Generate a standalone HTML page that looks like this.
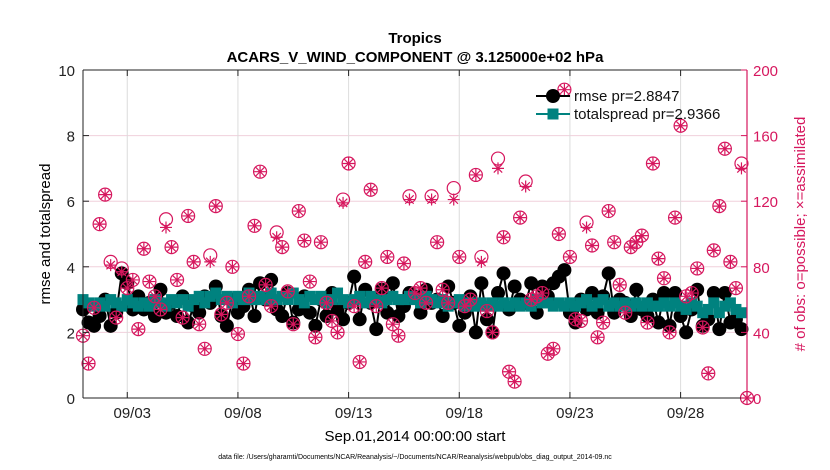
<!DOCTYPE html>
<html><head><meta charset="utf-8">
<style>
html,body{margin:0;padding:0;background:#fff;}
svg{display:block;font-family:"Liberation Sans",Arial,sans-serif;}
</style></head>
<body>
<svg id="chart" width="830" height="470" viewBox="0 0 830 470">
<text x="415" y="43" text-anchor="middle" font-size="15" font-weight="bold">Tropics</text>
<text x="415" y="62" text-anchor="middle" font-size="15" font-weight="bold">ACARS_V_WIND_COMPONENT @ 3.125000e+02 hPa</text>
<g id="grid"></g>
<g id="marks"></g>
<g id="axes"></g>
<text transform="translate(50,234) rotate(-90)" text-anchor="middle" font-size="15">rmse and totalspread</text>
<text transform="translate(805,234) rotate(-90)" text-anchor="middle" font-size="15" fill="#d6175e"># of obs: o=possible; ×=assimilated</text>
<text x="415" y="441" text-anchor="middle" font-size="15">Sep.01,2014 00:00:00 start</text>
<text x="415" y="459" text-anchor="middle" font-size="7">data file: /Users/gharamti/Documents/NCAR/Reanalysis/~/Documents/NCAR/Reanalysis/webpub/obs_diag_output_2014-09.nc</text>
<g id="legend"></g>
</svg>
<script>
const rmse = [2.7,2.3,2.2,2.5,3.0,2.2,2.6,3.8,3.5,2.7,3.1,2.7,
2.9,2.5,3.3,2.6,2.9,2.5,3.1,2.3,2.8,2.6,3.1,2.9,
3.4,2.5,2.2,3.0,2.6,2.8,3.3,2.5,3.5,3.0,3.6,2.7,
2.5,3.2,2.3,2.7,3.1,2.6,2.2,3.0,2.5,3.2,2.7,2.4,
2.9,3.7,2.4,3.3,2.9,2.1,3.3,2.6,3.5,2.5,2.8,3.2,
3.1,2.6,3.3,2.9,3.0,2.5,3.4,2.9,2.2,2.6,3.1,2.0,
3.5,2.4,2.0,3.2,3.8,2.7,3.4,3.0,2.9,3.5,2.6,3.4,
3.1,3.5,3.7,3.9,2.6,2.3,3.0,2.7,3.2,2.6,3.1,3.8,
2.6,3.0,2.9,2.5,3.3,2.7,2.5,3.0,2.3,3.2,2.2,3.2,
2.5,2.0,2.7,3.3,2.2,2.4,3.2,2.1,3.2,2.3,2.4,2.1];
const spread = [3.0,2.9,2.8,2.9,2.8,3.0,2.9,2.8,3.0,2.9,2.8,2.9,
2.8,3.0,2.9,2.8,3.0,2.9,3.0,2.8,3.0,3.1,2.9,3.1,
3.2,3.0,3.1,2.9,3.1,3.0,3.2,3.0,3.1,3.0,3.2,3.0,
3.1,3.0,3.2,3.0,2.9,3.1,3.0,3.1,2.9,3.0,3.2,3.0,
2.9,3.0,3.1,2.9,3.1,3.0,2.9,3.0,3.1,3.0,3.0,3.1,
3.0,2.9,3.1,3.0,2.9,3.0,2.8,2.9,3.0,2.8,2.9,2.8,
2.9,2.8,2.9,2.8,2.9,2.8,2.9,2.8,2.9,2.8,3.0,2.9,
2.9,2.8,2.9,2.8,2.9,2.8,2.9,3.0,2.8,2.9,3.0,2.8,
2.9,2.8,2.9,2.8,2.9,2.8,2.9,2.8,2.8,2.9,2.8,2.9,
2.8,2.7,2.9,2.8,2.6,2.7,2.9,2.6,2.8,2.9,2.7,2.6];
const obsPossible = [38,21,55,106,124,83,49,79,67,72,42,91,71,62,54,109,92,72,49,111,83,45,30,87,117,51,58,80,39,21,62,105,138,69,56,101,92,65,45,114,96,71,37,95,58,47,40,121,143,56,22,83,127,56,67,86,45,38,82,123,64,67,58,123,95,66,58,128,86,56,60,136,86,53,40,146,98,16,10,110,132,60,62,64,27,30,100,188,86,48,47,107,93,37,46,114,95,69,52,92,95,99,46,143,85,73,40,110,166,62,64,79,43,15,90,117,152,83,67,143,0];
const obsAssim = [38,21,55,106,124,81,49,77,67,72,42,91,71,62,54,104,92,72,49,111,83,45,30,83,117,51,58,80,39,21,62,105,138,69,56,98,92,65,45,114,96,71,37,95,58,47,40,119,143,56,22,83,127,56,67,86,45,38,82,121,64,67,58,121,95,66,58,121,86,56,60,136,83,53,40,140,98,16,10,110,129,60,62,64,27,30,100,188,86,48,47,104,93,37,46,114,95,69,52,92,95,99,46,143,85,73,40,110,166,62,64,79,43,15,90,117,152,83,67,140,0];
const xTickDays = [2,7,12,17,22,27];
const xTickLabels = ["09/03","09/08","09/13","09/18","09/23","09/28"];
const yTicks = [0,2,4,6,8,10];
const y2Ticks = [0,40,80,120,160,200];
const legendLabels = ["rmse pr=2.8847","totalspread pr=2.9366"];

const NS="http://www.w3.org/2000/svg";
const L=83,R=747,T=70,B=398;
const xs=d=>L+(d/30)*(R-L);
const ys=v=>B-(v/10)*(B-T);
const ys2=v=>B-(v/200)*(B-T);
const PINK="#d6175e",TEAL="#00827f";
function mk(tag,attrs,parent){const e=document.createElementNS(NS,tag);for(const k in attrs)e.setAttribute(k,attrs[k]);parent.appendChild(e);return e;}
const grid=document.getElementById('grid'),marks=document.getElementById('marks'),axes=document.getElementById('axes'),legend=document.getElementById('legend');

yTicks.forEach(v=>{ if(v>0&&v<10){const g=mk('line',{x1:L,x2:R,y1:ys(v),y2:ys(v),stroke:'#f0d0dc','stroke-width':1},grid);

}});
xTickDays.forEach(d=>{const g=mk('line',{x1:xs(d),x2:xs(d),y1:T,y2:B,stroke:'#dcdcdc','stroke-width':1},grid);

});

// obs markers
function obsMarker(d,c,isCircle){
  const x=xs(d),y=ys2(c);
  if(isCircle){const e=mk('circle',{cx:x,cy:y,r:6.5,fill:'none',stroke:PINK,'stroke-width':1.2},marks);
    
    }
  else{const e=mk('path',{d:`M${x-6},${y}H${x+6}M${x},${y-6}V${y+6}M${x-4.2},${y-4.2}L${x+4.2},${y+4.2}M${x-4.2},${y+4.2}L${x+4.2},${y-4.2}`,stroke:PINK,'stroke-width':1.2,fill:'none'},marks);
    
    }
}
// lines
function series(vals,color,isSquare,name){
  const pts=vals.map((v,i)=>xs(i*0.25)+','+ys(v)).join(' ');
  const pl=mk('polyline',{points:pts,fill:'none',stroke:color,'stroke-width':2},marks);
  
  
  vals.forEach((v,i)=>{const x=xs(i*0.25),y=ys(v);let e;
    if(isSquare)e=mk('rect',{x:x-5.5,y:y-5.5,width:11,height:11,fill:color},marks);
    else e=mk('circle',{cx:x,cy:y,r:7,fill:color},marks);
    
    });
}
series(rmse,'#000',false,'rmse');
series(spread,TEAL,true,'totalspread');
obsPossible.forEach((c,i)=>obsMarker(i*0.25,c,true));
obsAssim.forEach((c,i)=>obsMarker(i*0.25,c,false));

// axes frame
let a=mk('line',{x1:L,x2:R,y1:T,y2:T,stroke:'#222','stroke-width':1},axes);

a=mk('line',{x1:L,x2:R,y1:B,y2:B,stroke:'#222','stroke-width':1},axes);

a=mk('line',{x1:L,x2:L,y1:T,y2:B,stroke:'#222','stroke-width':1},axes);

a=mk('line',{x1:R,x2:R,y1:T,y2:B,stroke:PINK,'stroke-width':1.2},axes);

yTicks.forEach(v=>{mk('line',{x1:L,x2:L+6,y1:ys(v),y2:ys(v),stroke:'#222'},axes);
  const t=mk('text',{x:L-8,y:ys(v)+6,'text-anchor':'end','font-size':15,fill:'#222'},axes);t.textContent=v;
  
  });
y2Ticks.forEach(v=>{mk('line',{x1:R-6,x2:R,y1:ys2(v),y2:ys2(v),stroke:PINK},axes);
  const t=mk('text',{x:R+6,y:ys2(v)+6,'font-size':15,fill:PINK},axes);t.textContent=v;
  
  });
xTickDays.forEach((d,i)=>{mk('line',{x1:xs(d),x2:xs(d),y1:B,y2:B-6,stroke:'#222'},axes);mk('line',{x1:xs(d),x2:xs(d),y1:T,y2:T+6,stroke:'#222'},axes);
  const t=mk('text',{x:xs(d)+5,y:B+20,'text-anchor':'middle','font-size':15,fill:'#222'},axes);t.textContent=xTickLabels[i];
  
  });

// legend
[[ '#000',false],[TEAL,true]].forEach((s,i)=>{const y=96+i*18;
  mk('line',{x1:536,x2:570,y1:y,y2:y,stroke:s[0],'stroke-width':2},legend);
  let m;
  if(s[1])m=mk('rect',{x:547.5,y:y-5.5,width:11,height:11,fill:s[0]},legend);
  else m=mk('circle',{cx:553,cy:y,r:7,fill:s[0]},legend);
  
  
  const t=mk('text',{x:574,y:y+5,'font-size':15,fill:'#111'},legend);t.textContent=legendLabels[i];
  
  });
</script>
</body></html>
